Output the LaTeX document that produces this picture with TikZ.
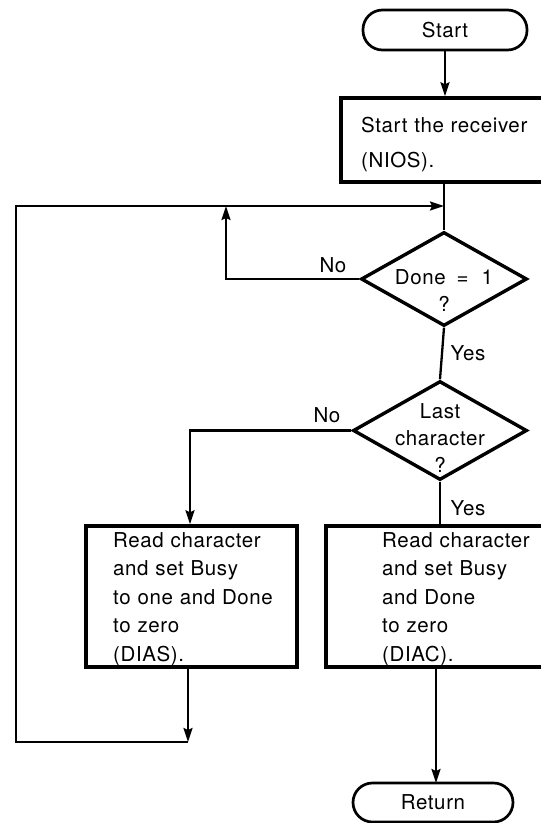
\documentclass[tikz,border=0pt]{standalone}
\usepackage{fontspec}
\setmainfont{TeX Gyre Heros}[LetterSpace=3]
\usetikzlibrary{shapes.geometric,arrows.meta}
\begin{document}
\begin{tikzpicture}[x=1pt,y=-1pt,
  font=\fontsize{20.5}{28}\selectfont,
  conn/.style={line width=2.3pt},
  arr/.style={conn,-{Stealth[length=14pt,width=9pt,inset=2pt]}},
  term/.style={draw,line width=2.7pt,rounded corners=19.5pt,inner sep=0pt},
  procbox/.style={draw,line width=3.4pt,inner sep=0pt},
  decision/.style={draw,diamond,line width=3.4pt,inner sep=0pt},
  txt/.style={inner sep=0pt,align=left,text width=#1,anchor=base west},
  ctxt/.style={inner sep=0pt,align=center,text width=#1,anchor=base},
  lbl/.style={inner sep=0pt}
]
\useasboundingbox (0,0) rectangle (541,823);
\fill[white] (0,0) rectangle (541,823);

% terminators
\node[term,minimum width=164pt,minimum height=40pt] (start) at (445,30) {Start};
\node[term,minimum width=160pt,minimum height=39pt] (ret) at (433,802.5) {Return};

% process boxes (the right-hand ones run past the page edge)
\node[procbox,minimum width=212pt,minimum height=84pt] (nios) at (447,140) {};
\node[txt=190pt] (niostext) at (361,132) {Start the receiver\\[7pt](NIOS).};

\node[procbox,minimum width=211pt,minimum height=141pt] (dias) at (191.5,596.5) {};
\node[txt=180pt,font=\fontsize{20.5}{28.5}\selectfont] (diastext) at (113,547)
  {Read character\\and set Busy\\to one and Done\\to zero\\(DIAS).};

\node[procbox,minimum width=226pt,minimum height=141pt] (diac) at (439,596.5) {};
\node[txt=160pt,font=\fontsize{20.5}{28.5}\selectfont] (diactext) at (382,547)
  {Read character\\and set Busy\\and Done\\to zero\\(DIAC).};

% decisions
\node[decision,minimum width=166pt,minimum height=94pt] (d1) at (444,279) {};
\node[ctxt=140pt,font=\fontsize{20.5}{27}\selectfont] (d1text) at (444,284)
  {Done\hspace{11pt}=\hspace{13pt}1\\?};

\node[decision,minimum width=174pt,minimum height=99pt] (d2) at (440,430.5) {};
\node[ctxt=140pt,font=\fontsize{20.5}{27}\selectfont] (d2text) at (440,418)
  {Last\\character\\?};

% branch labels
\node[lbl] (no1) at (333,265) {No};
\node[lbl] (yes1) at (468,353) {Yes};
\node[lbl] (no2) at (327,415) {No};
\node[lbl] (yes2) at (468,508) {Yes};

% routing points
\coordinate (j1) at (444,206);
\coordinate (j2) at (226,206);
\coordinate (n1) at (226,279);
\coordinate (n2) at (190,430.5);
\coordinate (c1) at (188,742);
\coordinate (c2) at (16,742);
\coordinate (c3) at (16,206);
\coordinate (rin) at (436,783);

% connectors
\draw[arr] (start.south) -- (start.south |- nios.north);
\draw[conn] (d1 |- nios.south) -- (d1.north);
\draw[arr] (d1.west) -- (n1) -- (j2);
\draw[conn] (d1.south) -- (d2.north);
\draw[arr] (d2.west) -- (n2) -- (n2 |- dias.north);
\draw[conn] (d2.south) -- (d2.south |- diac.north);
\draw[arr] (c1 |- dias.south) -- (c1);
\draw[arr] (c1) -- (c2) -- (c3) -- (j1);
\draw[arr] (rin |- diac.south) -- (rin);
\end{tikzpicture}
\end{document}
